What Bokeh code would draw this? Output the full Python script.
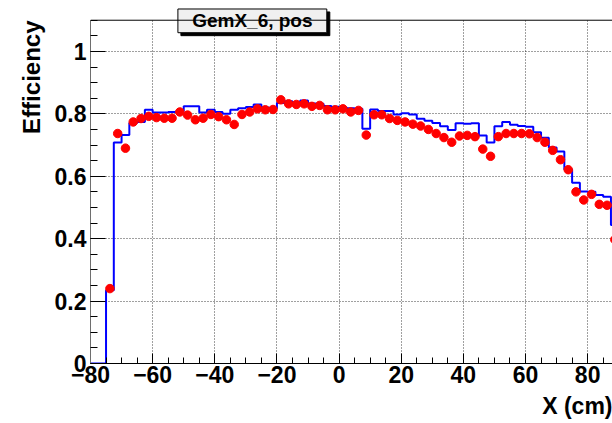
import numpy as np
from bokeh.plotting import figure
from bokeh.models import Range1d, FixedTicker, Title, Span
from bokeh.core.properties import value
from bokeh.embed import file_html
from bokeh.resources import INLINE

# Histogram binning along X (cm)
BIN_LOW = -80.0
BIN_HIGH = 90.0
BIN_WIDTH = 2.5

# Reference efficiency per bin (blue histogram), 68 bins from -80 to 90 cm
hist_eff = [
    0.000, 0.000, 0.235, 0.708, 0.732, 0.771, 0.774, 0.813, 0.804, 0.804,
    0.806, 0.808, 0.824, 0.824, 0.804, 0.813, 0.806, 0.800, 0.813, 0.818,
    0.822, 0.830, 0.820, 0.817, 0.835, 0.840, 0.837, 0.843, 0.833, 0.832,
    0.825, 0.823, 0.820, 0.818, 0.816, 0.752, 0.814, 0.809, 0.809, 0.798,
    0.802, 0.798, 0.784, 0.778, 0.771, 0.760, 0.748, 0.770, 0.768, 0.770,
    0.731, 0.708, 0.760, 0.774, 0.765, 0.761, 0.759, 0.741, 0.723, 0.692,
    0.679, 0.622, 0.579, 0.551, 0.550, 0.540, 0.534, 0.444,
]

# Measured efficiency (red points), starting at the third bin
FIRST_POINT_BIN = 2
point_eff = [
    0.240, 0.737, 0.690, 0.774, 0.785, 0.792, 0.788, 0.786, 0.786, 0.806,
    0.796, 0.781, 0.786, 0.798, 0.791, 0.781, 0.766, 0.798, 0.806, 0.816,
    0.813, 0.814, 0.845, 0.832, 0.830, 0.832, 0.824, 0.827, 0.813, 0.813,
    0.816, 0.806, 0.811, 0.732, 0.797, 0.797, 0.785, 0.779, 0.774, 0.767,
    0.761, 0.750, 0.737, 0.724, 0.709, 0.729, 0.731, 0.727, 0.687, 0.664,
    0.727, 0.737, 0.737, 0.737, 0.736, 0.724, 0.709, 0.683, 0.653, 0.621,
    0.550, 0.524, 0.542, 0.510, 0.507, 0.397,
]

x_major = [-80, -60, -40, -20, 0, 20, 40, 60, 80]
x_minor = list(range(-80, 90, 5))
y_major = [0, 0.2, 0.4, 0.6, 0.8, 1]
y_minor = [round(0.05 * i, 2) for i in range(0, 23)]
y_labels = {0: "0", 0.2: "0.2", 0.4: "0.4", 0.6: "0.6", 0.8: "0.8", 1: "1"}
x_labels = {-80: "\u221280", -60: "\u221260", -40: "\u221240", -20: "\u221220",
            0: "0", 20: "20", 40: "40", 60: "60", 80: "80"}

edges = np.arange(BIN_LOW, BIN_HIGH + BIN_WIDTH / 2, BIN_WIDTH)
centers = edges[:-1] + BIN_WIDTH / 2

FONT = "Liberation Sans"
Y_TOP = 1.1            # upper edge of the histogram frame
Y_VIEW_TOP = 1.1632    # leaves a strip above the frame for the title box

p = figure(
    width=612, height=423,
    x_range=Range1d(-80, 88), y_range=Range1d(0, Y_VIEW_TOP),
    output_backend="svg", toolbar_location=None,
    min_border_left=90, min_border_right=0,
    min_border_top=0, min_border_bottom=55,
    background_fill_color="white", border_fill_color="white",
)
p.outline_line_color = None

# Axes
xa = p.xaxis[0]
xa.ticker = FixedTicker(ticks=x_major, minor_ticks=x_minor)
xa.major_label_overrides = x_labels
ya = p.yaxis[0]
ya.ticker = FixedTicker(ticks=y_major, minor_ticks=y_minor)
ya.major_label_overrides = y_labels
ya.bounds = (0, Y_TOP)

for ax in (xa, ya):
    ax.axis_line_color = "black"
    ax.axis_line_width = 1
    ax.major_tick_line_color = "black"
    ax.minor_tick_line_color = "black"
    ax.major_tick_out = 0
    ax.minor_tick_out = 0
    ax.major_label_text_font = FONT
    ax.major_label_text_font_style = "bold"
    ax.major_label_text_font_size = "23px"
    ax.major_label_text_color = "black"

ya.axis_line_color = "#6e6e6e"
xa.major_tick_in = 10
xa.minor_tick_in = 6
xa.major_label_standoff = 2
ya.major_tick_in = 15
ya.minor_tick_in = 7
ya.major_label_standoff = 4

# Dotted grid
p.xgrid.ticker = FixedTicker(ticks=x_major)
p.ygrid.ticker = FixedTicker(ticks=y_major)
for g in (p.xgrid[0], p.ygrid[0]):
    g.grid_line_color = "black"
    g.grid_line_alpha = 0.75
    g.grid_line_dash = "1 2"
    g.grid_line_width = 1

# Histogram outline
p.step(x=list(edges), y=hist_eff + [hist_eff[-1]], mode="after",
       line_color="#0000ff", line_width=2)

# Measured points
p.scatter(x=centers[FIRST_POINT_BIN:], y=point_eff, size=8.5,
          fill_color="#ff0000", line_color="#ff0000")

# Blank strip above the frame, closed by the frame's top edge
p.quad(left=[-90], right=[100], bottom=[Y_TOP], top=[1.3],
       fill_color="white", line_color=None)
p.add_layout(Span(location=Y_TOP, dimension="width", line_color="black",
                  line_width=1))

# Title box with drop shadow
bx0, bx1, by0, by1 = -51.87, -3.95, 1.060, 1.136
sx, sy = 0.97, 0.0095
p.quad(left=[bx0 + sx], right=[bx1 + sx], bottom=[by0 - sy], top=[by1 - sy],
       fill_color="black", line_color="black")
p.quad(left=[bx0], right=[bx1], bottom=[by0], top=[by1],
       fill_color="#f0f0f0", line_color="black", line_width=1)
p.text(x=[(bx0 + bx1) / 2], y=[(by0 + by1) / 2], text=["GemX_6, pos"],
       text_align="center", text_baseline="middle",
       text_font=value(FONT), text_font_style="bold", text_font_size="19px",
       text_color="black")

# Axis titles
eff_title = Title(text="Efficiency", align="right", offset=20,
                  text_font=FONT, text_font_style="bold",
                  text_font_size="24px", text_color="black")
if "standoff" in eff_title.properties():
    eff_title.standoff = eff_title.standoff + 4
p.add_layout(eff_title, "left")
p.add_layout(Title(text="X (cm)", align="right",
                   text_font=FONT, text_font_style="bold",
                   text_font_size="23px", text_color="black"), "below")

open("out.html", "w").write(file_html(p, INLINE))
